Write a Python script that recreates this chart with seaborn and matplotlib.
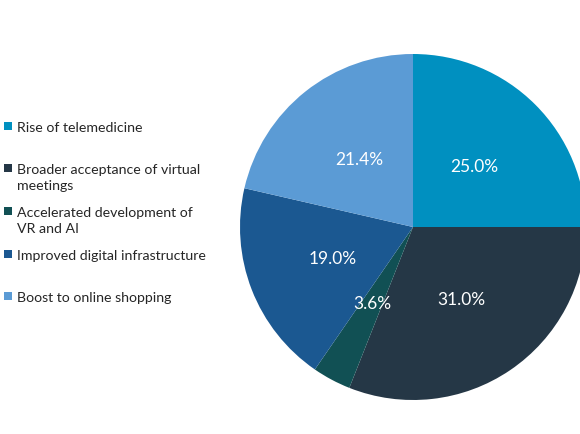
import matplotlib
matplotlib.use("Agg")
import matplotlib.pyplot as plt
from matplotlib.patches import Rectangle
import seaborn as sns

# data
labels = ["Rise of telemedicine",
          "Broader acceptance of virtual\nmeetings",
          "Accelerated development of\nVR and AI",
          "Improved digital infrastructure",
          "Boost to online shopping"]
shares = [25.0, 31.0, 3.6, 19.0, 21.4]
colors = ["#0090c0", "#253746", "#115054", "#1b5891", "#5b9bd5"]

sns.set_theme(style="white")
plt.rcParams['font.family'] = ['Lato', 'DejaVu Sans']

W, H = 580, 435
fig = plt.figure(figsize=(W / 100, H / 100), dpi=100)

# pie centre (413, 228) px, radius 173 px
cx, cy, r = 413, 228, 173
ax = fig.add_axes([(cx - r) / W, 1 - (cy + r) / H, 2 * r / W, 2 * r / H])
wedges, texts, autotexts = ax.pie(shares, colors=colors, startangle=90, counterclock=False,
                                  autopct='%1.1f%%', pctdistance=0.5,
                                  wedgeprops=dict(linewidth=0),
                                  textprops=dict(color='white', fontsize=12.5))
for w in wedges:
    w.set_clip_on(False)
ax.set_xlim(-1, 1)
ax.set_ylim(-1, 1)
ax.set_aspect('equal')
ax.axis('off')

# legend drawn by hand so the marker sits on the first line
first_line_y = [127, 169, 212, 255, 297]
for lab, col, y in zip(labels, colors, first_line_y):
    fig.patches.append(Rectangle((4 / W, 1 - (y + 4) / H), 8 / W, 8 / H,
                                 transform=fig.transFigure, facecolor=col, edgecolor='none'))
    fig.text(17 / W, 1 - (y - 5) / H, lab, fontsize=10.2, color='#262626',
             va='top', ha='left', linespacing=1.38)

fig.savefig("out.png", dpi=100)
